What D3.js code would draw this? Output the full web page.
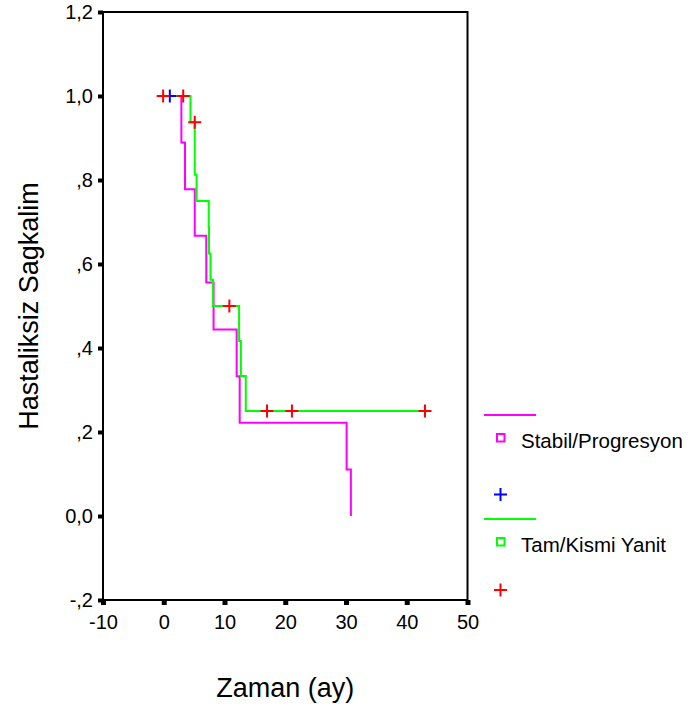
<!DOCTYPE html>
<html>
<head>
<meta charset="utf-8">
<script src="https://cdn.jsdelivr.net/npm/d3@7"></script>
<style>
    body { margin: 0; background: #FFFFFF; }
    text { font-family: "Liberation Sans", Arial, sans-serif; fill: #000000; }
</style>
</head>
<body>
<div class="chart"></div>
<script>
let width = 693,
    height = 716;

// Stabil/Progresyon curve (step points) and its censored cases
const stabilTimes = [0, 2.9, 3.5, 5.1, 7.0, 8.2, 12.0, 12.5, 30.1, 30.8];
const stabilSurv = [1, 0.889, 0.778, 0.667, 0.556, 0.444, 0.333, 0.222, 0.111, 0];
const stabilCensorTimes = [1.0];
const stabilCensorSurv = [1.0];

// Tam/Kismi Yanit curve and its censored cases
const yanitTimes = [0, 4.4, 5.1, 5.4, 7.4, 7.45, 7.7, 8.1, 12.4, 12.7, 13.5, 43];
const yanitSurv = [1, 0.9375, 0.8125, 0.75, 0.6875, 0.625, 0.5625, 0.5, 0.4167, 0.3333, 0.25, 0.25];
const yanitCensorTimes = [-0.1, 3.2, 5.1, 10.8, 17, 21.1, 43];
const yanitCensorSurv = [1, 1, 0.9375, 0.5, 0.25, 0.25, 0.25];

const xTicks = [-10, 0, 10, 20, 30, 40, 50];
const yTicks = [-0.2, 0, 0.2, 0.4, 0.6, 0.8, 1.0, 1.2];
const yTickLabels = ["-,2", "0,0", ",2", ",4", ",6", ",8", "1,0", "1,2"];

const legendNames = ["Stabil/Progresyon", "Tam/Kismi Yanit"];
const lineColors = ["#FF00FF", "#00FF00"];
const censorColors = ["#0000FF", "#FF0000"];

let plot = { left: 103, right: 467.5, top: 12, bottom: 600 };

let x = d3.scaleLinear().domain([-10, 50]).range([plot.left, plot.right]);
let y = d3.scaleLinear().domain([-0.2, 1.2]).range([plot.bottom, plot.top]);

let svg = d3.select(".chart").append("svg")
    .attr("width", width)
    .attr("height", height);

// axes
let yAxis = svg.append("g")
    .attr("transform", `translate(${plot.left},0)`)
    .call(d3.axisLeft(y)
        .tickValues(yTicks)
        .tickFormat((d, i) => yTickLabels[i])
        .tickSize(5)
        .tickPadding(5));

let xAxis = svg.append("g")
    .attr("transform", `translate(0,${plot.bottom})`)
    .call(d3.axisBottom(x)
        .tickValues(xTicks)
        .tickFormat(d => d)
        .tickSize(5)
        .tickPadding(10));

[xAxis, yAxis].forEach(ax => {
    ax.select(".domain").remove();
    ax.selectAll("text")
        .style("font-size", "20px")
        .style("font-family", '"Liberation Sans", Arial, sans-serif')
        .attr("fill", "#000000");
});
yAxis.selectAll(".tick line").attr("stroke", "#000000").attr("stroke-width", 4);
xAxis.selectAll(".tick line").attr("stroke", "#000000").attr("stroke-width", 5);

// frame
svg.append("rect")
    .attr("x", plot.left)
    .attr("y", plot.top)
    .attr("width", plot.right - plot.left)
    .attr("height", plot.bottom - plot.top)
    .attr("fill", "none")
    .attr("stroke", "#000000")
    .attr("stroke-width", 2);

// survival curves
let stepLine = d3.line()
    .x(d => x(d[0]))
    .y(d => y(d[1]))
    .curve(d3.curveStepAfter);

let curves = [
    d3.zip(stabilTimes, stabilSurv),
    d3.zip(yanitTimes, yanitSurv)
];
curves.forEach((pts, i) => {
    svg.append("path")
        .attr("d", stepLine(pts))
        .attr("fill", "none")
        .attr("stroke", lineColors[i])
        .attr("stroke-width", 2);
});

// censor marks
function plus(g, cx, cy, color) {
    g.append("path")
        .attr("d", `M${cx - 6.5},${cy}H${cx + 6.5}M${cx},${cy - 6.5}V${cy + 6.5}`)
        .attr("stroke", color)
        .attr("stroke-width", 2)
        .attr("fill", "none");
}

let censors = [
    d3.zip(stabilCensorTimes, stabilCensorSurv),
    d3.zip(yanitCensorTimes, yanitCensorSurv)
];
censors.forEach((pts, i) => {
    pts.forEach(p => plus(svg, x(p[0]), y(p[1]), censorColors[i]));
});

// axis titles
svg.append("text")
    .attr("x", (plot.left + plot.right) / 2)
    .attr("y", 697)
    .attr("text-anchor", "middle")
    .style("font-size", "27px")
    .text("Zaman (ay)");

svg.append("text")
    .attr("transform", `translate(38,${(plot.top + plot.bottom) / 2}) rotate(-90)`)
    .attr("text-anchor", "middle")
    .style("font-size", "27px")
    .text("Hastaliksiz Sagkalim");

// legend
let legendTop = [415, 519];
legendNames.forEach((name, i) => {
    let ly = legendTop[i];
    svg.append("line")
        .attr("x1", 484)
        .attr("x2", 536)
        .attr("y1", ly)
        .attr("y2", ly)
        .attr("stroke", lineColors[i])
        .attr("stroke-width", 2);
    svg.append("rect")
        .attr("x", 497)
        .attr("y", ly + 19)
        .attr("width", 7.5)
        .attr("height", 7.5)
        .attr("fill", "none")
        .attr("stroke", lineColors[i])
        .attr("stroke-width", 2);
    svg.append("text")
        .attr("x", 521)
        .attr("y", ly + 33)
        .style("font-size", "20.5px")
        .text(name);
});
plus(svg, 500.5, 494.5, censorColors[0]);
plus(svg, 500.5, 590, censorColors[1]);
</script>
</body>
</html>
